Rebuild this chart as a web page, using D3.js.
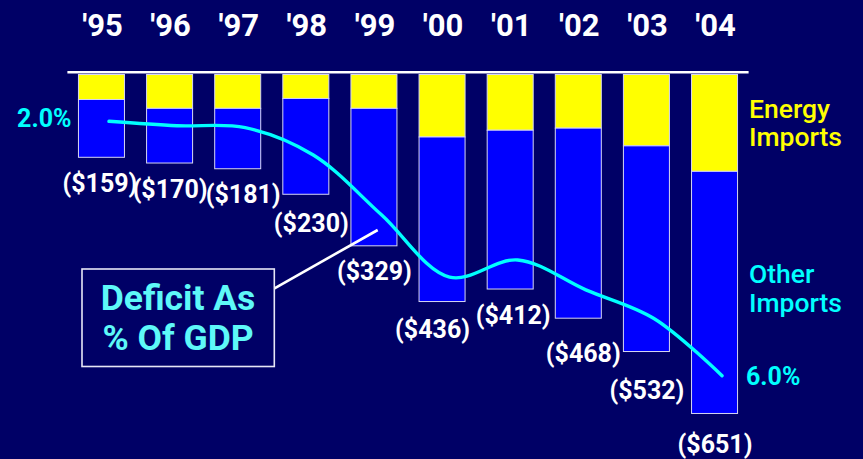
<!DOCTYPE html>
<html>
<head>
<meta charset="utf-8">
<script src="https://cdn.jsdelivr.net/npm/d3@7"></script>
<style>
  html, body { margin: 0; padding: 0; background: #000066; }
  svg { display: block; }
</style>
</head>
<body>
<svg id="chart" width="863" height="459"></svg>
<script>
// Trade deficit, $ billions, split into energy and other imports
const years = ["'95", "'96", "'97", "'98", "'99", "'00", "'01", "'02", "'03", "'04"];
const deficit = [159, 170, 181, 230, 329, 436, 412, 468, 532, 651];
const energyImports = [48, 65, 65, 46, 65, 120, 107, 103, 137, 186];
const otherImports = [111, 105, 116, 184, 264, 316, 305, 365, 395, 465];
// Deficit as a percentage of GDP
const gdpShare = [2.0, 2.07, 2.1, 2.53, 3.47, 4.45, 4.18, 4.65, 5.1, 6.0];

// Small per-label offsets [dx, dy] so value labels clear the curve
const labelNudge = [[-1.5, 0], [0.5, 0], [5.5, 0], [5.5, 3], [0.5, 0], [-9.5, 2], [3, 0], [5, 9], [0.5, 13], [0.5, 5]];

const W = 863, H = 459;
const svg = d3.select("#chart");
svg.append("rect").attr("width", W).attr("height", H).attr("fill", "#000066");

const x = d3.scaleBand()
  .domain(years)
  .range([67.4, 748.6])
  .paddingInner(0.3246)
  .paddingOuter(0.1623);

const yBar = d3.scaleLinear().domain([0, 700]).range([74.5, 74.5 + 700 * 0.5207]);
const yPct = d3.scaleLinear().domain([2, 6]).range([121.3, 375.7]);

const rows = years.map((yr, i) => ({ year: yr, energy: energyImports[i], other: otherImports[i] }));
const stacked = d3.stack().keys(["energy", "other"])(rows);
const fills = { energy: "#FFFF00", other: "#0000FF" };

// Stacked bars hanging below the baseline
svg.append("g")
  .selectAll("g")
  .data(stacked)
  .join("g")
  .attr("fill", d => fills[d.key])
  .selectAll("rect")
  .data(d => d)
  .join("rect")
  .attr("x", d => x(d.data.year))
  .attr("width", x.bandwidth())
  .attr("y", d => yBar(d[0]))
  .attr("height", d => yBar(d[1]) - yBar(d[0]))
  .attr("stroke", "#d6d6f2")
  .attr("stroke-width", 1);

// Baseline
svg.append("line")
  .attr("x1", x.range()[0]).attr("x2", x.range()[1])
  .attr("y1", 72.3).attr("y2", 72.3)
  .attr("stroke", "#ffffff").attr("stroke-width", 2.5);

// Year labels on top (axis with no domain / ticks)
const topAxis = d3.axisTop(x).tickSize(0).tickPadding(0);
const gAxis = svg.append("g").attr("transform", "translate(1,36)").call(topAxis);
gAxis.select(".domain").remove();
gAxis.selectAll("text")
  .attr("fill", "#ffffff")
  .attr("dy", 0)
  .style("font-family", "Roboto, 'Open Sans', sans-serif")
  .style("font-weight", "bold")
  .style("font-size", "31px");

// Deficit value labels below each bar
svg.append("g")
  .selectAll("text")
  .data(deficit)
  .join("text")
  .attr("x", (d, i) => x(years[i]) + x.bandwidth() / 2 + labelNudge[i][0])
  .attr("y", (d, i) => yBar(d) + 34.5 + labelNudge[i][1])
  .attr("text-anchor", "middle")
  .attr("fill", "#ffffff")
  .style("font-family", "Roboto, 'Open Sans', sans-serif")
  .style("font-weight", "bold")
  .style("font-size", "25px")
  .text(d => `($${d})`);

// Deficit share of GDP curve
const lineShift = 7.5;
const line = d3.line()
  .x((d, i) => x(years[i]) + x.bandwidth() / 2 + lineShift)
  .y(d => yPct(d))
  .curve(d3.curveCatmullRom);

svg.append("path")
  .datum(gdpShare)
  .attr("d", line)
  .attr("fill", "none")
  .attr("stroke", "#00FFFF")
  .attr("stroke-width", 3.4)
  .attr("stroke-linecap", "round");

const pctFont = sel => sel
  .attr("fill", "#00FFFF")
  .style("font-family", "Roboto, 'Open Sans', sans-serif")
  .style("font-weight", "bold")
  .style("font-size", "25px");

const first = gdpShare[0], last = gdpShare[gdpShare.length - 1];
svg.append("text")
  .attr("x", 71.5)
  .attr("y", yPct(first) + 5.5)
  .attr("text-anchor", "end")
  .call(pctFont)
  .text(first.toFixed(1) + "%");
svg.append("text")
  .attr("x", 746)
  .attr("y", yPct(last) + 9.5)
  .call(pctFont)
  .text(last.toFixed(1) + "%");

// Series labels on the right, one text per line
const legendFont = sel => sel
  .style("font-family", "Roboto, sans-serif")
  .style("font-weight", "500")
  .style("font-size", "26.5px");

const seriesLabels = [
  { text: "Energy", y: 117.5, color: "#FFFF00" },
  { text: "Imports", y: 146, color: "#FFFF00" },
  { text: "Other", y: 283, color: "#00FFFF" },
  { text: "Imports", y: 311.5, color: "#00FFFF" }
];
svg.append("g")
  .selectAll("text")
  .data(seriesLabels)
  .join("text")
  .attr("x", 749)
  .attr("y", d => d.y)
  .attr("fill", d => d.color)
  .call(legendFont)
  .text(d => d.text);

// Callout box for the curve
const callout = svg.append("g");
callout.append("line")
  .attr("x1", 274.5).attr("y1", 288.3)
  .attr("x2", 377.7).attr("y2", 230)
  .attr("stroke", "#ffffff").attr("stroke-width", 2.6);
callout.append("rect")
  .attr("x", 82).attr("y", 269)
  .attr("width", 192.3).attr("height", 97.5)
  .attr("fill", "#000066")
  .attr("stroke", "#e6e6f6").attr("stroke-width", 1.6);
const calloutFont = sel => sel
  .attr("text-anchor", "middle")
  .attr("fill", "#5ef8f8")
  .style("font-family", "Roboto, sans-serif")
  .style("font-weight", "bold")
  .style("font-size", "35.5px");
callout.append("text").attr("x", 178).attr("y", 310).call(calloutFont).text("Deficit As");
callout.append("text").attr("x", 178).attr("y", 349.5).call(calloutFont).text("% Of GDP");
</script>
</body>
</html>
